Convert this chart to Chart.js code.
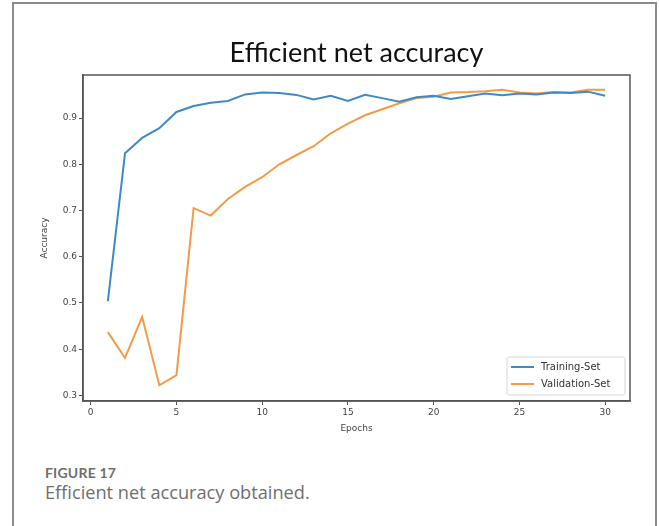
<!DOCTYPE html>
<html>
<head>
<meta charset="utf-8">
<script src="https://cdn.jsdelivr.net/npm/chart.js@4.4.1/dist/chart.umd.min.js"></script>
<style>
    body { margin: 0; width: 659px; height: 526px; background: #fff; overflow: hidden; position: relative; }
    .frame { position: absolute; left: 12px; top: 2px; width: 641px; height: 560px; border: 2px solid #8c8c8c; border-bottom: none; }
    .chart-box { position: absolute; left: 20px; top: 20px; width: 620px; height: 420px; }
    .caption { position: absolute; left: 45px; top: 464px; color: #6f6f6f; }
    .caption .label { font-family: Lato, sans-serif; font-size: 14px; font-weight: bold; letter-spacing: 0.2px; line-height: 17px; }
    .caption .text { font-family: "Open Sans", sans-serif; font-size: 18.2px; line-height: 22px; margin-top: 0px; }
</style>
</head>
<body>
<div class="frame"></div>
<div class="chart-box"><canvas id="accChart" width="620" height="420"></canvas></div>
<div class="caption">
    <div class="label">FIGURE 17</div>
    <div class="text">Efficient net accuracy obtained.</div>
</div>
<script>
const epochs = [1, 2, 3, 4, 5, 6, 7, 8, 9, 10, 11, 12, 13, 14, 15,
    16, 17, 18, 19, 20, 21, 22, 23, 24, 25, 26, 27, 28, 29, 30];
const trainingAcc = [0.504, 0.824, 0.857, 0.878, 0.913, 0.926, 0.933, 0.937, 0.951, 0.955,
    0.954, 0.950, 0.940, 0.948, 0.937, 0.950, 0.943, 0.935, 0.945, 0.948,
    0.941, 0.947, 0.953, 0.949, 0.953, 0.951, 0.955, 0.954, 0.957, 0.948];
const validationAcc = [0.437, 0.381, 0.470, 0.322, 0.344, 0.705, 0.689, 0.725, 0.751, 0.772,
    0.800, 0.820, 0.839, 0.867, 0.888, 0.906, 0.919, 0.932, 0.943, 0.946,
    0.955, 0.956, 0.958, 0.961, 0.955, 0.953, 0.956, 0.955, 0.961, 0.961];
const xTicks = [0, 5, 10, 15, 20, 25, 30];
const yTicks = [0.3, 0.4, 0.5, 0.6, 0.7, 0.8, 0.9];

const blue = '#3f8ac6';
const orange = '#f59a46';
const axisColor = '#555';
const tickFont = { family: 'DejaVu Sans', size: 9 };

// top and right edges of the axes box
const boxBorder = {
    id: 'boxBorder',
    afterDraw(chart) {
        const { ctx, chartArea: a } = chart;
        ctx.save();
        ctx.strokeStyle = axisColor;
        ctx.lineWidth = 1.5;
        ctx.strokeRect(a.left, a.top, a.right - a.left, a.bottom - a.top);
        ctx.restore();
    }
};

// matplotlib style legend in the lower right corner
const innerLegend = {
    id: 'innerLegend',
    afterDraw(chart) {
        const { ctx, chartArea: a } = chart;
        const w = 118, h = 38;
        const x = a.right - 5 - w, y = a.bottom - 6 - h;
        ctx.save();
        ctx.fillStyle = 'rgba(255,255,255,0.9)';
        ctx.strokeStyle = '#d6d6d6';
        ctx.lineWidth = 1;
        ctx.beginPath();
        ctx.roundRect(x, y, w, h, 2);
        ctx.fill();
        ctx.stroke();
        ctx.font = '10px "DejaVu Sans"';
        ctx.textBaseline = 'middle';
        chart.data.datasets.forEach((ds, i) => {
            const ly = y + 10 + i * 17;
            ctx.strokeStyle = ds.borderColor;
            ctx.lineWidth = 2;
            ctx.beginPath();
            ctx.moveTo(x + 4, ly);
            ctx.lineTo(x + 27, ly);
            ctx.stroke();
            ctx.fillStyle = '#333';
            ctx.fillText(ds.label, x + 34, ly);
        });
        ctx.restore();
    }
};

const ctx = document.getElementById('accChart').getContext('2d');
new Chart(ctx, {
    type: 'line',
    data: {
        datasets: [{
            label: 'Training-Set',
            data: epochs.map((e, i) => ({ x: e, y: trainingAcc[i] })),
            borderColor: blue,
            borderWidth: 2,
            pointRadius: 0,
            tension: 0
        }, {
            label: 'Validation-Set',
            data: epochs.map((e, i) => ({ x: e, y: validationAcc[i] })),
            borderColor: orange,
            borderWidth: 2,
            pointRadius: 0,
            tension: 0
        }]
    },
    options: {
        responsive: false,
        animation: false,
        layout: { padding: { left: 0, right: 10, top: 0, bottom: 0 } },
        plugins: {
            legend: { display: false },
            tooltip: { enabled: false },
            title: {
                display: true,
                fullSize: false,
                text: 'Efficient net accuracy',
                color: '#111',
                font: { family: 'Lato', size: 27, weight: 'normal', lineHeight: 1.2 },
                padding: { top: 17, bottom: 5.6 }
            }
        },
        scales: {
            x: {
                type: 'linear',
                min: -0.45,
                max: 31.45,
                afterBuildTicks: s => { s.ticks = xTicks.map(v => ({ value: v })); },
                afterFit: s => { s.height = 39; },
                ticks: { color: '#444', font: tickFont, padding: 2, maxRotation: 0 },
                grid: { display: true, drawOnChartArea: false, tickLength: 4, color: axisColor },
                border: { display: true, color: axisColor, width: 1.5 },
                title: { display: true, text: 'Epochs', color: '#444', font: { family: 'DejaVu Sans', size: 9 }, padding: { top: 0, bottom: 6 } }
            },
            y: {
                min: 0.288,
                max: 0.993,
                afterBuildTicks: s => { s.ticks = yTicks.map(v => ({ value: v })); },
                afterFit: s => { s.width = 63; },
                ticks: { color: '#444', font: tickFont, padding: 2, callback: v => v.toFixed(1) },
                grid: { display: true, drawOnChartArea: false, tickLength: 4, color: axisColor },
                border: { display: true, color: axisColor, width: 1.5 },
                title: { display: true, text: 'Accuracy', color: '#444', font: { family: 'DejaVu Sans', size: 9 }, padding: { top: 19, bottom: 0 } }
            }
        }
    },
    plugins: [boxBorder, innerLegend]
});
</script>
</body>
</html>
